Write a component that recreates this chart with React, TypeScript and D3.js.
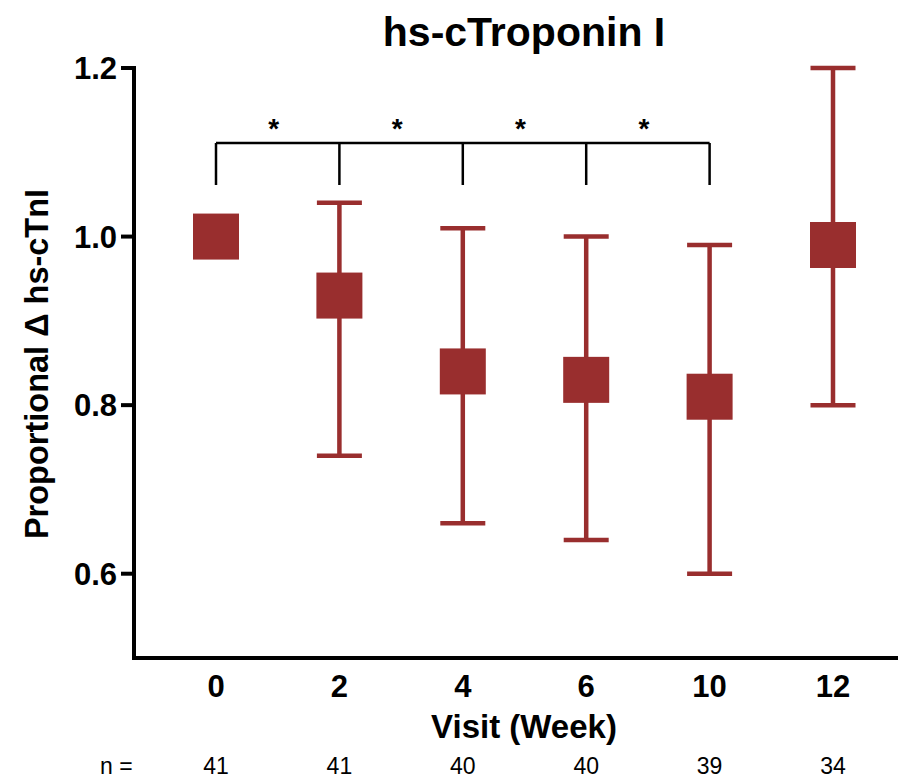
import React from 'react';
import * as d3 from 'd3';

// ---- data ----
const weeks = ['0', '2', '4', '6', '10', '12'];
const meanVals = [1.0, 0.93, 0.84, 0.83, 0.81, 0.99];
const upperVals = [1.0, 1.04, 1.01, 1.0, 0.99, 1.2];
const lowerVals = [1.0, 0.74, 0.66, 0.64, 0.6, 0.8];
const nCounts = [41, 41, 40, 40, 39, 34];
const yTicks = [0.6, 0.8, 1.0, 1.2];
const sigPairs: [string, string][] = [['0', '2'], ['2', '4'], ['4', '6'], ['6', '10']];

const W = 905;
const H = 780;
const RED = '#992e2e';
const FONT = '"Liberation Sans", Arial, Helvetica, sans-serif';

const App = () => {
  const x = d3.scalePoint<string>().domain(weeks).range([216, 833]);
  const y = d3.scaleLinear().domain([0.5, 1.2]).range([658, 68]);

  const axisX = 134;
  const axisY = 658;
  const sq = 46;
  const capW = 45;
  const brTop = 143;
  const brBottom = 185;

  return (
    <svg
      width={W}
      height={H}
      style={{ position: 'absolute', left: 0, top: 0, background: '#fff' }}
      fontFamily={FONT}
    >
      {/* title */}
      <text x={524} y={46} textAnchor="middle" fontSize={41} fontWeight="bold">
        hs-cTroponin I
      </text>

      {/* y axis */}
      <line x1={axisX} x2={axisX} y1={y(1.2) - 2} y2={axisY + 2} stroke="#000" strokeWidth={4} />
      {yTicks.map(t => (
        <g key={t}>
          <line x1={axisX - 13} x2={axisX} y1={y(t)} y2={y(t)} stroke="#000" strokeWidth={4} />
          <text
            x={117}
            y={y(t)}
            dy="0.36em"
            textAnchor="end"
            fontSize={31}
            fontWeight="bold"
          >
            {d3.format('.1f')(t)}
          </text>
        </g>
      ))}
      <text
        transform={`translate(48,${(190 + 538) / 2}) rotate(-90)`}
        textAnchor="middle"
        fontSize={32.5}
        fontWeight="bold"
      >
        Proportional Δ hs-cTnI
      </text>

      {/* x axis */}
      <line x1={axisX - 2} x2={898} y1={axisY} y2={axisY} stroke="#000" strokeWidth={4} />
      {weeks.map(w => (
        <text
          key={w}
          x={x(w)}
          y={697}
          textAnchor="middle"
          fontSize={31}
          fontWeight="bold"
        >
          {w}
        </text>
      ))}
      <text x={524} y={738} textAnchor="middle" fontSize={33} fontWeight="bold">
        Visit (Week)
      </text>

      {/* n row */}
      <text x={100} y={774} fontSize={23}>n =</text>
      {weeks.map((w, i) => (
        <text key={w} x={x(w)} y={774} textAnchor="middle" fontSize={23}>
          {nCounts[i]}
        </text>
      ))}

      {/* error bars + squares */}
      {weeks.map((w, i) => {
        const cx = x(w) as number;
        const hasBar = upperVals[i] !== lowerVals[i];
        return (
          <g key={w}>
            {hasBar && (
              <g stroke={RED} strokeWidth={4.5}>
                <line x1={cx} x2={cx} y1={y(upperVals[i])} y2={y(lowerVals[i])} />
                <line x1={cx - capW / 2} x2={cx + capW / 2} y1={y(upperVals[i])} y2={y(upperVals[i])} />
                <line x1={cx - capW / 2} x2={cx + capW / 2} y1={y(lowerVals[i])} y2={y(lowerVals[i])} />
              </g>
            )}
            <rect
              x={cx - sq / 2}
              y={y(meanVals[i]) - sq / 2}
              width={sq}
              height={sq}
              fill={RED}
            />
          </g>
        );
      })}

      {/* significance brackets */}
      <g stroke="#000" strokeWidth={2.5} fill="none">
        <line
          x1={x(sigPairs[0][0])}
          x2={x(sigPairs[sigPairs.length - 1][1])}
          y1={brTop}
          y2={brTop}
        />
        {weeks.slice(0, 5).map(w => (
          <line key={w} x1={x(w)} x2={x(w)} y1={brTop} y2={brBottom} />
        ))}
      </g>
      {sigPairs.map(([a, b]) => (
        <text
          key={a + b}
          x={((x(a) as number) + (x(b) as number)) / 2 - 4}
          y={138}
          textAnchor="middle"
          fontSize={28}
          fontWeight="bold"
        >
          *
        </text>
      ))}
    </svg>
  );
};

export default App;
